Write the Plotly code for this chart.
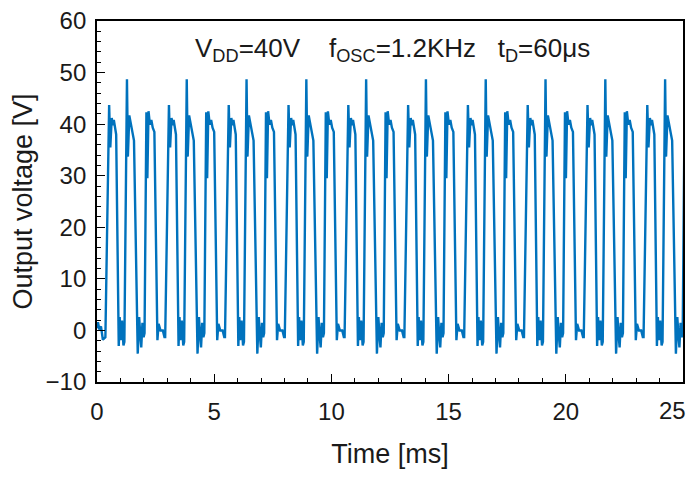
import plotly.graph_objects as go

# Output waveform.
# The signal repeats every three switching cycles (~2.55 ms), so one
# three-cycle stretch is kept, with times relative to its 48 V spike.
seg_tau = [-0.92, -0.76, -0.71, -0.65, -0.60, -0.56, -0.51, -0.46,
           -0.35, -0.31, -0.27, -0.21, -0.15, -0.11,
           0.00, 0.04, 0.10, 0.17, 0.24, 0.30,
           0.46, 0.52, 0.57, 0.61, 0.66, 0.71, 0.75,
           0.83, 0.87, 0.92, 0.98, 1.04, 1.10, 1.17,
           1.30, 1.35, 1.43, 1.53, 1.60]
seg_v = [-1.3, 43.7, 35.5, 41.2, 39.8, 40.8, 39.2, 38.0,
         -3.0, 2.6, -1.9, 1.9, -2.9, -2.2,
         48.7, 33.7, 41.7, 40.1, 38.5, 36.8,
         -4.5, 2.6, -1.0, -3.3, 1.5, -1.3, -0.5,
         42.3, 29.5, 42.5, 39.9, 40.8, 39.3, 38.5,
         -1.9, 1.3, 0.0, 0.0, -1.3]
seg_period = 2.551   # ms, three cycles
first_spike = 1.278  # ms
n_segments = 10

# the few samples before the first rising edge
lead_t = [0.0, 0.04, 0.10, 0.17, 0.25]
lead_v = [0.4, 1.6, 0.2, 0.8, -1.8]

x_ticks = [0, 5, 10, 15, 20, 25]

time_ms = lead_t + [first_spike + k * seg_period + tau
                    for k in range(n_segments) for tau in seg_tau]
volts = lead_v + seg_v * n_segments

fig = go.Figure()
fig.add_trace(go.Scatter(x=time_ms, y=volts, mode='lines',
                         line=dict(color='#0072BD', width=2.4),
                         showlegend=False))

font = 'Liberation Sans, Arial, sans-serif'
ink = '#1a1a1a'

# last x label is drawn separately so it is not cut at the window edge
fig.update_xaxes(range=[0, 25], tickvals=x_ticks,
                 ticktext=[str(t) for t in x_ticks[:-1]] + [''],
                 automargin=False, showgrid=False, zeroline=False,
                 showline=True, linecolor='black', linewidth=1.8, mirror=True,
                 ticks='inside', ticklen=8, tickwidth=1.3, tickcolor='black',
                 minor=dict(dtick=1, ticks='inside', ticklen=4, tickwidth=1.3, tickcolor='black'),
                 tickfont=dict(family=font, size=24, color=ink),
                 ticklabelstandoff=7, ticklabeloverflow='allow',
                 title=dict(text='Time [ms]', font=dict(family=font, size=27, color=ink),
                            standoff=20))
fig.update_yaxes(range=[-10, 60], dtick=10, tick0=0, automargin=False,
                 showgrid=False, zeroline=False,
                 showline=True, linecolor='black', linewidth=1.8, mirror=True,
                 ticks='inside', ticklen=8, tickwidth=1.3, tickcolor='black',
                 minor=dict(dtick=2, ticks='inside', ticklen=4, tickwidth=1.3, tickcolor='black'),
                 tickfont=dict(family=font, size=24, color=ink),
                 ticklabelstandoff=4, ticklabeloverflow='allow',
                 title=dict(text='Output voltage [V]', font=dict(family=font, size=27, color=ink),
                            standoff=7))

fig.add_annotation(text=str(x_ticks[-1]), xref='paper', yref='paper',
                   x=1.0085, y=-0.078, xanchor='right', yanchor='middle',
                   showarrow=False, font=dict(family=font, size=24, color=ink))

fig.add_annotation(text='V<sub>DD</sub>=40V    f<sub>OSC</sub>=1.2KHz   t<sub>D</sub>=60μs',
                   xref='paper', yref='paper', x=0.505, y=0.92,
                   xanchor='center', yanchor='middle', showarrow=False,
                   font=dict(family=font, size=26, color=ink))

# the page body adds 8 px round the figure, so it is sized to fit the window
fig.update_layout(width=681, height=461,
                  margin=dict(l=89, r=6, t=13, b=87),
                  paper_bgcolor='white', plot_bgcolor='white')

fig.write_html('out.html')
